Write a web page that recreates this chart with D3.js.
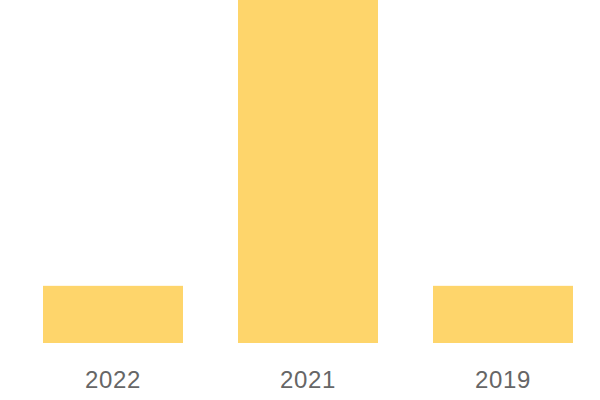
<html>
<head>
<script src="https://d3js.org/d3.v7.min.js"></script>
<style>
    body { margin: 0; background: #ffffff; }
</style>
</head>
<body>
<svg id="chart" width="600" height="400"></svg>
<script>
    let years = ["2022", "2021", "2019"]
    let counts = [1, 6, 1]

    let width = 600
    let height = 400
    let margin = {left: 15.5, right: -0.5, top: 0, bottom: 57}
    let bodyWidth = width - margin.left - margin.right
    let bodyHeight = height - margin.top - margin.bottom

    let svg = d3.select("#chart")

    let xScale = d3.scaleBand()
        .range([margin.left, margin.left + bodyWidth])
        .domain(years)
        .paddingInner(55 / 195)
        .paddingOuter(27.5 / 195)

    let yScale = d3.scaleLinear()
        .range([bodyHeight, 0])
        .domain([0, d3.max(counts)])

    svg.append("g")
        .selectAll("rect")
        .data(years)
        .enter()
        .append("rect")
        .attr("x", d => xScale(d))
        .attr("width", xScale.bandwidth())
        .attr("y", (d, i) => yScale(counts[i]))
        .attr("height", (d, i) => bodyHeight - yScale(counts[i]))
        .attr("fill", "#fed56b")

    svg.append("g")
        .selectAll("text")
        .data(years)
        .enter()
        .append("text")
        .attr("x", d => xScale(d) + xScale.bandwidth() / 2)
        .attr("y", 387.5)
        .attr("text-anchor", "middle")
        .attr("font-family", "Liberation Sans, Arial, sans-serif")
        .attr("font-size", 24)
        .attr("letter-spacing", 0.6)
        .attr("fill", "#666666")
        .text(d => d)
</script>
</body>
</html>
